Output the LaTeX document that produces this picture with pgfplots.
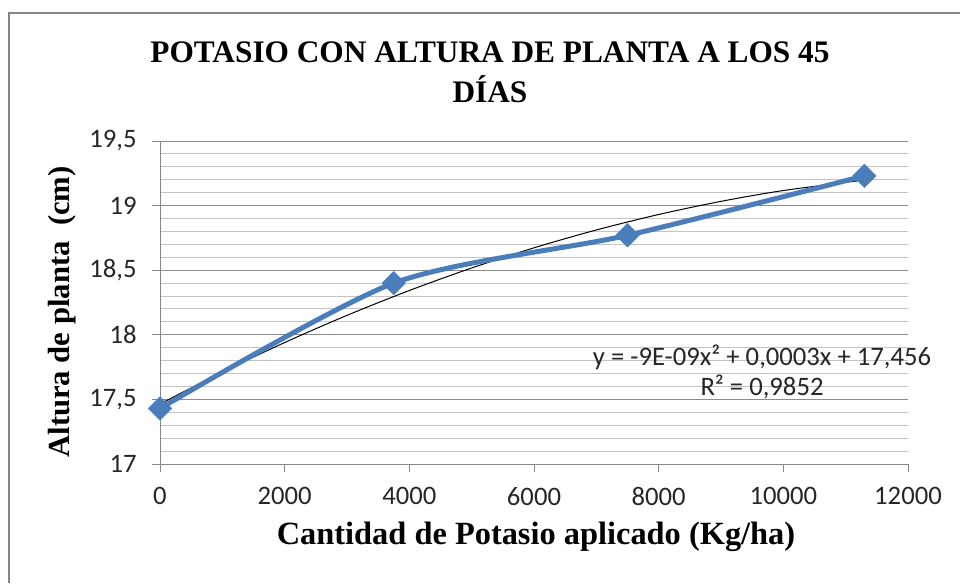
\documentclass[border=0pt]{standalone}
\usepackage{pgfplots}
\pgfplotsset{compat=1.18}
\usepackage{fontspec}
\setmainfont{Liberation Serif}
\newfontfamily\calfont{Carlito}
\definecolor{serblue}{RGB}{74,126,187}
\definecolor{majgrid}{RGB}{140,140,140}
\definecolor{mingrid}{RGB}{195,195,195}
\definecolor{axgray}{RGB}{134,134,134}
\begin{document}
\begin{tikzpicture}
\useasboundingbox (0pt,0pt) rectangle (720pt,437.25pt);
\draw[axgray, line width=1.5pt] (6.75pt,0pt) -- (6.75pt,427.5pt) -- (720pt,427.5pt);
\begin{axis}[
  at={(120pt,89.25pt)}, anchor=origin,
  scale only axis, width=561pt, height=242.25pt,
  xmin=0, xmax=12000, ymin=17, ymax=19.5,
  xtick={0,2000,...,12000},
  ytick={17,17.5,...,19.5},
  scaled x ticks=false,
  xticklabel={\pgfmathprintnumber[fixed,precision=0,1000 sep={}]{\tick}},
  minor y tick num=4,
  axis x line=bottom, axis y line=left,
  axis line style={-, axgray, line width=0.75pt},
  tick style={axgray, line width=0.75pt},
  tick align=outside,
  major tick length=6pt, minor tick length=0pt,
  ymajorgrids, yminorgrids,
  major grid style={majgrid, line width=0.75pt},
  minor grid style={mingrid, line width=0.75pt},
  /pgf/number format/assume math mode=true,
  /pgf/number format/use comma,
  /pgf/number format/1000 sep={},
  ticklabel style={font=\calfont\fontsize{20pt}{22pt}\selectfont, text=black!85},
  xticklabel style={yshift=-8pt},
  yticklabel style={xshift=-8pt},
  clip=false,
]
\addplot[black, line width=0.75pt, smooth] coordinates {
(0,17.4645) (1000,17.7114) (2000,17.9400) (3000,18.1505) (4000,18.3429)
(5000,18.5172) (6000,18.6733) (7000,18.8114) (8000,18.9312) (9000,19.0329)
(10000,19.1165) (11300,19.1980)};
\addplot[serblue, line width=3.75pt, smooth, tension=0.45, mark=diamond*,
  mark size=8.8pt, mark options={solid, line width=0.4pt, xscale=1.33, fill=serblue, draw=serblue}]
  coordinates {(0,17.43) (3750,18.40) (7500,18.77) (11300,19.23)};
\end{axis}
\node[font=\bfseries\fontsize{23.5pt}{30pt}\selectfont, align=center] at (367.5pt,383.25pt)
  {POTASIO CON ALTURA DE PLANTA A LOS 45\\DÍAS};
\node[font=\bfseries\fontsize{24.3pt}{26pt}\selectfont] at (402pt,34.5pt)
  {Cantidad de Potasio aplicado (Kg/ha)};
\node[font=\bfseries\fontsize{23pt}{26pt}\selectfont, rotate=90] at (46.5pt,203.25pt)
  {Altura de planta\ \ (cm)};
\node[font=\calfont\fontsize{20pt}{22.5pt}\selectfont, text=black!85, align=center] at (571.5pt,158.25pt)
  {y = -9E-09x² + 0,0003x + 17,456\\R² = 0,9852};
\end{tikzpicture}
\end{document}
